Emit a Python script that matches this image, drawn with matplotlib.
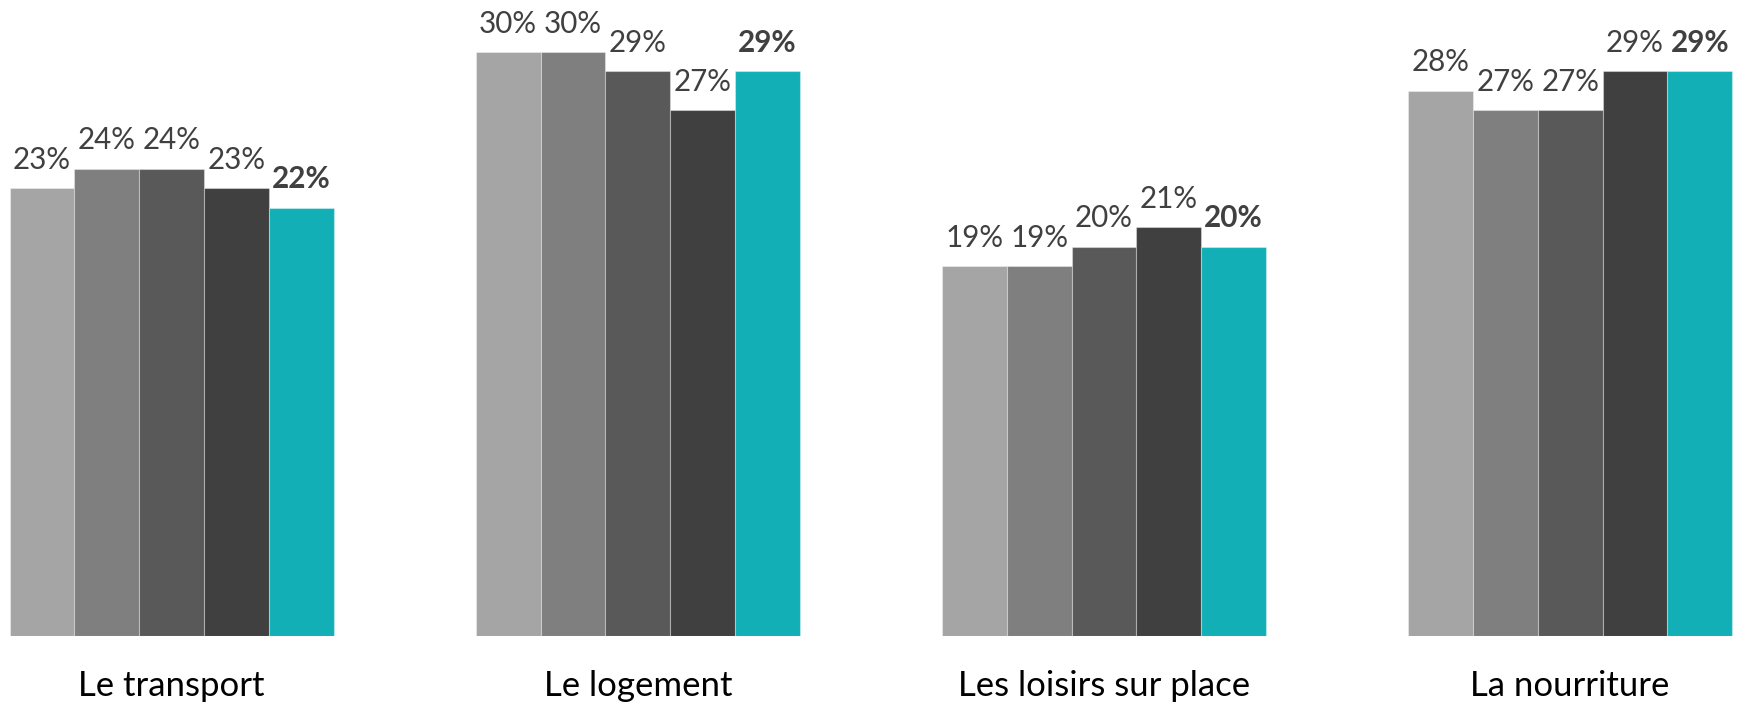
import matplotlib.pyplot as plt
import numpy as np

plt.rcParams['font.family'] = ['Lato', 'DejaVu Sans']

categories = ["Le transport", "Le logement", "Les loisirs sur place", "La nourriture"]
serie1 = [23, 30, 19, 28]
serie2 = [24, 30, 19, 27]
serie3 = [24, 29, 20, 27]
serie4 = [23, 27, 21, 29]
serie5 = [22, 29, 20, 29]
series = [serie1, serie2, serie3, serie4, serie5]
colors = ['#a5a5a5', '#7f7f7f', '#595959', '#404040', '#12afb6']

fig = plt.figure(figsize=(17.38, 7.03), dpi=100)
ax = fig.add_axes([0, 67 / 703, 1, 636 / 703])

x = np.arange(len(categories))
w = 0.139
for i, vals in enumerate(series):
    pos = x + (i - 2) * w
    ax.bar(pos, vals, width=w, color=colors[i], edgecolor=(1, 1, 1, 0.35), linewidth=0.8)
    bold = i == len(series) - 1
    for p, v in zip(pos, vals):
        ax.annotate(f"{v}%", (p, v), xytext=(0, 14), textcoords='offset points',
                    ha='center', va='baseline', fontsize=21.3, color='#404040',
                    fontweight='bold' if bold else 'normal')

for xi, c in zip(x, categories):
    ax.annotate(c, (xi, 0), xytext=(0, -43), textcoords='offset points',
                ha='center', va='baseline', fontsize=25, color='black',
                annotation_clip=False)

ax.set_xlim(-0.368, 3.360)
ax.set_ylim(0, 32.67)
ax.axis('off')

fig.savefig('out.png', dpi=100)
